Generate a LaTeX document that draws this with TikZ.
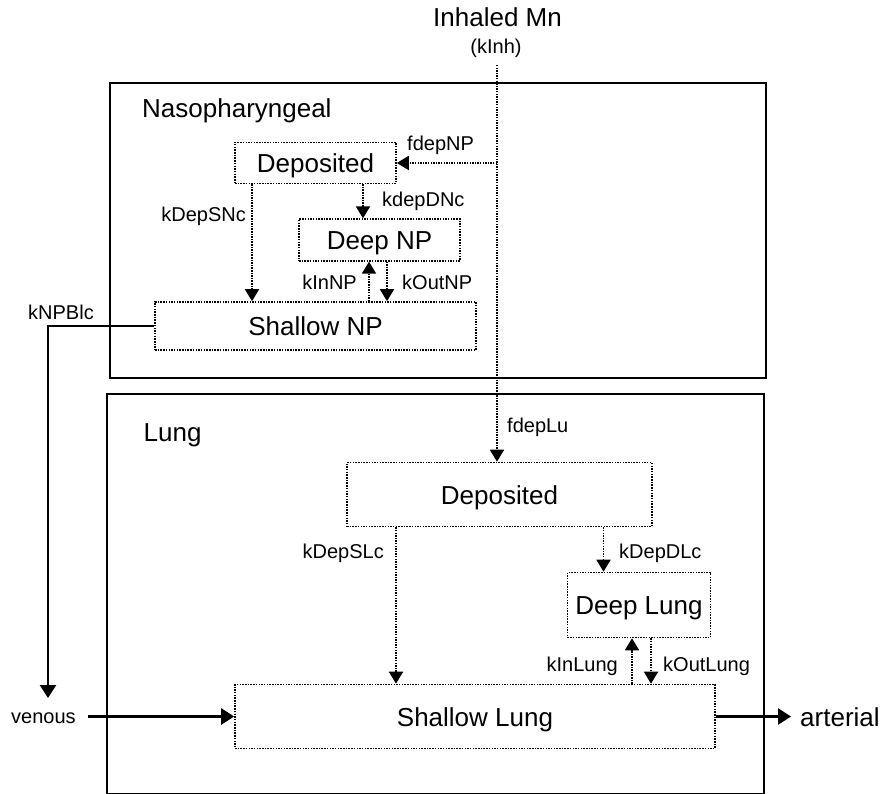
\documentclass[tikz,border=0pt]{standalone}
\usepackage{fontspec}
\setmainfont{Liberation Sans}
\usetikzlibrary{arrows.meta}
\begin{document}
\begin{tikzpicture}[x=1pt,y=-1pt,
  big/.style={font=\fontsize{26}{30}\selectfont},
  lbl/.style={font=\fontsize{20}{24}\selectfont, inner sep=0pt},
  comp/.style={draw, line width=1.6pt, dash pattern=on 1.5pt off 1.2pt, inner sep=0pt,
    font=\fontsize{26}{30}\selectfont, text height=19pt, text depth=0pt},
  outer/.style={draw, line width=2pt},
  darr/.style={line width=1.8pt, dash pattern=on 1.5pt off 1.1pt,
    -{Triangle[width=14pt,length=12pt]}},
  tarr/.style={line width=2.6pt, -{Triangle[width=16pt,length=13pt]}},
  tline/.style={line width=2.6pt}]
\useasboundingbox (0,0) rectangle (883,794);
\fill[white] (0,0) rectangle (883,794);

% outer compartments
\draw[outer] (110,83) rectangle (766,378);
\draw[outer] (107,394) rectangle (763.5,794);
\node[big, anchor=base west, inner sep=0pt] (nplab) at (142,118) {Nasopharyngeal};
\node[big, anchor=base west, inner sep=0pt] (lulab) at (143.5,441) {Lung};

% input
\node[big, anchor=base, inner sep=0pt] (inh) at (497.5,27) {Inhaled Mn};
\node[lbl, anchor=base] (kinh) at (496,54) {(kInh)};

% NP compartments
\node[comp, minimum width=161pt, minimum height=41pt] (npdep) at (315.5,163) {Deposited};
\node[comp, minimum width=161pt, minimum height=41.7pt] (npdeep) at (379.5,240) {Deep NP};
\node[comp, minimum width=321pt, minimum height=48pt] (npshal) at (315.5,326) {Shallow NP};

% Lung compartments
\node[comp, minimum width=305pt, minimum height=64pt] (ludep) at (499.5,494.5) {Deposited};
\node[comp, minimum width=143pt, minimum height=65pt] (ludeep) at (639,605) {Deep Lung};
\node[comp, minimum width=480pt, minimum height=64pt] (lushal) at (475,716.5) {Shallow Lung};

% coordinates
\coordinate (itop) at (497,65);
\coordinate (ibr) at (497,163);
\coordinate (blood) at (48,698);
\coordinate (vin) at (88,716.5);
\coordinate (aout) at (791,716.5);

% inhalation
\draw[darr] (itop) -- (itop |- ludep.north);
\draw[darr] (ibr) -- (npdep.east);
\node[lbl, anchor=base west] (lfdepnp) at (407,151) {fdepNP};
\node[lbl, anchor=base west] (lfdeplu) at (507,432) {fdepLu};

% NP arrows
\draw[darr] (363,0 |- npdep.south) -- (363,0 |- npdeep.north);
\node[lbl, anchor=base west] (lkdepdnc) at (382,207) {kdepDNc};
\draw[darr] (252,0 |- npdep.south) -- (252,0 |- npshal.north);
\node[lbl, anchor=base east] (lkdepsnc) at (246,222) {kDepSNc};
\draw[darr] (369,0 |- npshal.north) -- (369,0 |- npdeep.south);
\node[lbl, anchor=base east] (lkinnp) at (357,290) {kInNP};
\draw[darr] (387,0 |- npdeep.south) -- (387,0 |- npshal.north);
\node[lbl, anchor=base west] (lkoutnp) at (402,290) {kOutNP};

% NP clearance to blood
\draw[tline, -{Triangle[width=16pt,length=13pt]}] (npshal.west) -| (blood);
\node[lbl, anchor=base west] (lknpblc) at (28,319) {kNPBlc};

% Lung arrows
\draw[darr] (396,0 |- ludep.south) -- (396,0 |- lushal.north);
\node[lbl, anchor=base east] (lkdepslc) at (384,558) {kDepSLc};
\draw[darr] (603.5,0 |- ludep.south) -- (603.5,0 |- ludeep.north);
\node[lbl, anchor=base west] (lkdepdlc) at (619,558) {kDepDLc};
\draw[darr] (632,0 |- lushal.north) -- (632,0 |- ludeep.south);
\node[lbl, anchor=base east] (lkinlung) at (618,671) {kInLung};
\draw[darr] (651,0 |- ludeep.south) -- (651,0 |- lushal.north);
\node[lbl, anchor=base west] (lkoutlung) at (663,671) {kOutLung};

% venous / arterial
\node[lbl, anchor=base west] (venous) at (11,723) {venous};
\draw[tarr] (vin) -- (lushal.west);
\draw[tarr] (lushal.east) -- (aout);
\node[big, anchor=base west, inner sep=0pt] (arterial) at (800,726) {arterial};
\end{tikzpicture}
\end{document}
